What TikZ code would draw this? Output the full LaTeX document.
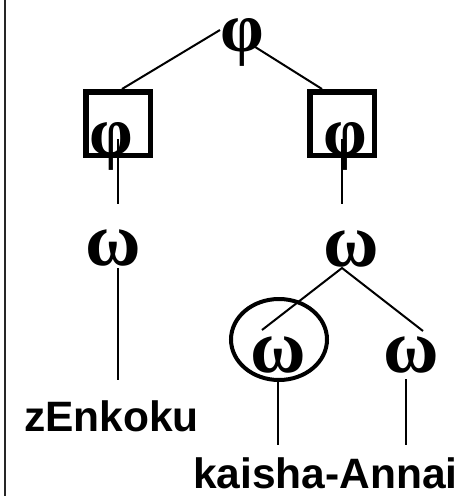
\documentclass[tikz,border=0pt]{standalone}
\usepackage{fontspec}
\usetikzlibrary{shapes.geometric}
\setmainfont{Liberation Serif}
\newfontfamily\labelfont{Liberation Sans}
\begin{document}
\begin{tikzpicture}[x=1pt,y=-1pt,
  greekphi/.style={inner sep=0pt,anchor=base,font=\bfseries\fontsize{70}{70}\selectfont},
  greekomega/.style={inner sep=0pt,anchor=base,font=\bfseries\fontsize{76}{76}\selectfont},
  wordlabel/.style={inner sep=0pt,anchor=base west,font=\labelfont\bfseries\fontsize{42.5}{42.5}\selectfont},
  edge/.style={line width=2pt},
  squarebox/.style={draw,line width=5.5pt,minimum width=64.5pt,minimum height=63.5pt,inner sep=0pt},
  ringbox/.style={draw,line width=4pt,ellipse,minimum width=96pt,minimum height=81pt,inner sep=0pt}]
\useasboundingbox (0,0) rectangle (459,496);
\fill[white] (0,0) rectangle (459,496);
% left border
\coordinate (bordertop) at (4.8,0);
\coordinate (borderbot) at (4.8,496);
\draw[line width=2.5pt,black!85] (bordertop) -- (borderbot);
% top
\node[greekphi] (root) at (242.5,51) {φ};
\node[squarebox] (boxL) at (118,123.5) {};
\node[squarebox] (boxR) at (342,123.5) {};
\node[greekphi] (phiL) at (111.5,155) {φ};
\node[greekphi] (phiR) at (345,155) {φ};
\coordinate (rootL) at (220,30);
\coordinate (rootR) at (252,45);
\coordinate (boxLtop) at (122,89);
\coordinate (boxRtop) at (322,89);
\draw[edge] (rootL) -- (boxLtop);
\draw[edge] (rootR) -- (boxRtop);
% phi to omega
\coordinate (phiLs) at (118,139);
\coordinate (phiLe) at (118,204);
\coordinate (phiRs) at (342,139);
\coordinate (phiRe) at (342,204);
\draw[edge] (phiLs) -- (phiLe);
\draw[edge] (phiRs) -- (phiRe);
\node[greekomega] (omL) at (113.5,265) {ω};
\node[greekomega] (omR) at (351,266) {ω};
% left branch
\coordinate (omLs) at (118,268);
\coordinate (omLe) at (118,380);
\draw[edge] (omLs) -- (omLe);
\node[wordlabel] (zen) at (24,431) {zEnkoku};
% right branch
\coordinate (omRs) at (342,268);
\coordinate (omRa) at (262,330);
\coordinate (omRb) at (423,331);
\draw[edge] (omRa) -- (omRs) -- (omRb);
\node[ringbox] (ring) at (279,339.5) {};
\node[greekomega] (omI) at (278.5,372) {ω};
\node[greekomega] (omB) at (411.5,372) {ω};
\coordinate (omIs) at (278,382);
\coordinate (omIe) at (278,445);
\coordinate (omBs) at (406,379);
\coordinate (omBe) at (406,445);
\draw[edge] (omIs) -- (omIe);
\draw[edge] (omBs) -- (omBe);
\node[wordlabel] (kai) at (193,488) {kaisha-Annai};
\end{tikzpicture}
\end{document}
